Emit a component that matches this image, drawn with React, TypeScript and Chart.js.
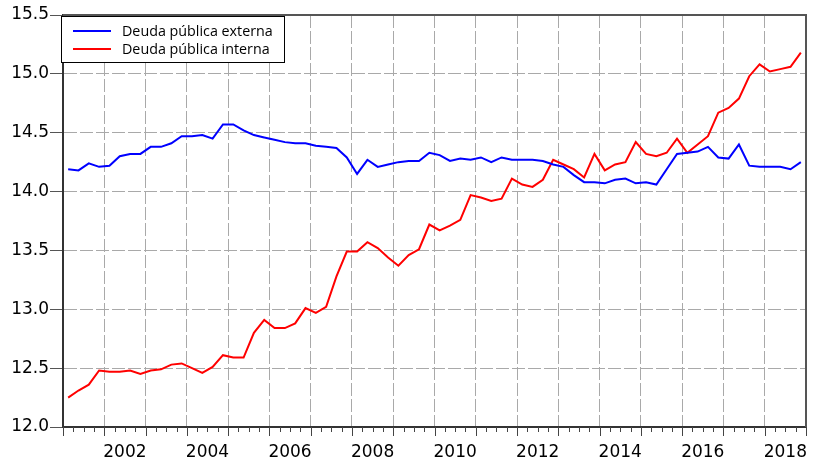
import React, { useEffect, useRef } from "react";
import { Chart, registerables } from "chart.js";

Chart.register(...registerables);

// Quarterly series, 2001Q1 .. 2018Q4
const firstYear = 2001;
const quarterLabels: string[] = [];
for (let y = 2001; y <= 2018; y++) for (let q = 1; q <= 4; q++) quarterLabels.push(`${y}Q${q}`);

const deudaExterna: number[] = [
  14.19, 14.18, 14.24, 14.21, 14.22, 14.30, 14.32, 14.32, 14.38, 14.38,
  14.41, 14.47, 14.47, 14.48, 14.45, 14.57, 14.57, 14.52, 14.48, 14.46,
  14.44, 14.42, 14.41, 14.41, 14.39, 14.38, 14.37, 14.29, 14.15, 14.27,
  14.21, 14.23, 14.25, 14.26, 14.26, 14.33, 14.31, 14.26, 14.28, 14.27,
  14.29, 14.25, 14.29, 14.27, 14.27, 14.27, 14.26, 14.23, 14.21, 14.14,
  14.08, 14.08, 14.07, 14.10, 14.11, 14.07, 14.08, 14.06, 14.19, 14.32,
  14.33, 14.34, 14.38, 14.29, 14.28, 14.40, 14.22, 14.21, 14.21, 14.21,
  14.19, 14.25,
];

const deudaInterna: number[] = [
  12.25, 12.31, 12.36, 12.48, 12.47, 12.47, 12.48, 12.45, 12.48, 12.49,
  12.53, 12.54, 12.50, 12.46, 12.51, 12.61, 12.59, 12.59, 12.80, 12.91,
  12.84, 12.84, 12.88, 13.01, 12.97, 13.02, 13.28, 13.49, 13.49, 13.57,
  13.52, 13.44, 13.37, 13.46, 13.51, 13.72, 13.67, 13.71, 13.76, 13.97,
  13.95, 13.92, 13.94, 14.11, 14.06, 14.04, 14.10, 14.27, 14.23, 14.19,
  14.12, 14.32, 14.18, 14.23, 14.25, 14.42, 14.32, 14.30, 14.33, 14.45,
  14.33, 14.40, 14.47, 14.67, 14.71, 14.79, 14.98, 15.08, 15.02, 15.04,
  15.06, 15.18,
];

const seriesNames: string[] = ["Deuda pública externa", "Deuda pública interna"];
const seriesColors: string[] = ["#0000ff", "#ff0000"];
const yTicks: number[] = [12.0, 12.5, 13.0, 13.5, 14.0, 14.5, 15.0, 15.5];
const xLabelYears: number[] = [2002, 2004, 2006, 2008, 2010, 2012, 2014, 2016, 2018];

const nQ = quarterLabels.length;
const axisFont = { family: "DejaVu Sans", size: 17 };

const decorPlugin = {
  id: "decor",
  afterDraw(chart: any) {
    const { ctx, chartArea: a, scales } = chart;
    const xs = scales.x;
    ctx.save();
    // quarter tick marks below the x axis
    ctx.strokeStyle = "#444";
    ctx.lineWidth = 1;
    for (let i = 0; i <= nQ; i++) {
      const px = Math.round(xs.getPixelForValue(i)) + 0.5;
      const len = i % 4 === 0 ? 9 : 5;
      ctx.beginPath();
      ctx.moveTo(px, a.bottom);
      ctx.lineTo(px, a.bottom + len);
      ctx.stroke();
    }
    // top and right frame
    ctx.strokeStyle = "#555";
    ctx.lineWidth = 2;
    ctx.beginPath();
    ctx.moveTo(a.left, a.top);
    ctx.lineTo(a.right, a.top);
    ctx.lineTo(a.right, a.bottom);
    ctx.stroke();
    // legend box
    const bx = a.left - 2, by = a.top + 1, bw = 223, bh = 46;
    ctx.fillStyle = "#ffffff";
    ctx.fillRect(bx, by, bw, bh);
    ctx.strokeStyle = "#000";
    ctx.lineWidth = 1;
    ctx.strokeRect(bx + 0.5, by + 0.5, bw, bh);
    chart.data.datasets.forEach((ds: any, i: number) => {
      const ly = by + 15 + i * 18;
      ctx.strokeStyle = ds.borderColor;
      ctx.lineWidth = 2;
      ctx.beginPath();
      ctx.moveTo(bx + 12, ly);
      ctx.lineTo(bx + 50, ly);
      ctx.stroke();
      ctx.fillStyle = "#000";
      ctx.font = "14.3px 'Open Sans'";
      ctx.textBaseline = "middle";
      ctx.textAlign = "left";
      ctx.fillText(ds.label, bx + 61, ly + 0.5);
    });
    ctx.restore();
  },
};

export default function App() {
  const ref = useRef<HTMLCanvasElement | null>(null);
  useEffect(() => {
    if (!ref.current) return;
    const chart = new Chart(ref.current, {
      type: "line",
      data: {
        datasets: [deudaExterna, deudaInterna].map((vals, s) => ({
          label: seriesNames[s],
          data: vals.map((v, i) => ({ x: i + 0.5, y: v })),
          borderColor: seriesColors[s],
          backgroundColor: seriesColors[s],
          borderWidth: 2,
          pointRadius: 0,
          tension: 0,
          fill: false,
        })),
      },
      options: {
        responsive: false,
        animation: false,
        events: [],
        layout: { padding: { left: 0, top: 15, right: 4, bottom: 0 } },
        plugins: { legend: { display: false }, tooltip: { enabled: false } },
        scales: {
          x: {
            type: "linear",
            min: 0,
            max: nQ,
            afterFit: (s: any) => { s.height = 33; },
            afterBuildTicks: (s: any) => {
              const t = [];
              for (let i = 0; i <= nQ; i++) t.push({ value: i });
              s.ticks = t;
            },
            ticks: {
              autoSkip: false,
              maxRotation: 0,
              minRotation: 0,
              padding: 15,
              color: "#000",
              font: axisFont,
              callback: (v: any) => {
                const yr = firstYear + (Number(v) - 2) / 4;
                return xLabelYears.includes(yr) ? String(yr) : "";
              },
            },
            grid: {
              drawTicks: false,
              color: (c: any) => {
                const v = c.tick ? c.tick.value : -1;
                return v > 0 && v < nQ && v % 4 === 0 ? "#a9a9a9" : "rgba(0,0,0,0)";
              },
              lineWidth: 1,
            },
            border: { display: true, color: "#333", width: 2, dash: [13, 3] },
          },
          y: {
            type: "linear",
            min: 12,
            max: 15.5,
            afterFit: (s: any) => { s.width = 63; },
            afterBuildTicks: (s: any) => { s.ticks = yTicks.map((v) => ({ value: v })); },
            ticks: {
              padding: 1,
              color: "#000",
              font: axisFont,
              callback: (v: any) => Number(v).toFixed(1),
            },
            grid: {
              drawTicks: true,
              tickLength: 13,
              tickColor: "#555",
              tickWidth: 1,
              color: (c: any) => {
                const v = c.tick ? c.tick.value : -1;
                return v > 12 && v < 15.5 ? "#a9a9a9" : "rgba(0,0,0,0)";
              },
              lineWidth: 1,
            },
            border: { display: true, color: "#333", width: 2, dash: [13, 3] },
          },
        },
      },
      plugins: [decorPlugin],
    });
    return () => chart.destroy();
  }, []);
  return (
    <div style={{ position: "absolute", left: 0, top: 0, width: 821, height: 460, background: "#fff" }}>
      <canvas ref={ref} width={821} height={460} />
    </div>
  );
}
